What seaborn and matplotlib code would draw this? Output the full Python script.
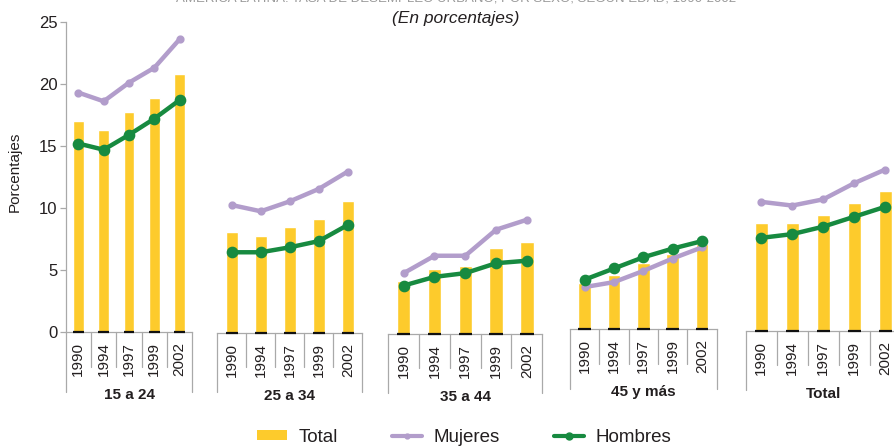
import matplotlib
matplotlib.use("Agg")
import matplotlib.pyplot as plt
import matplotlib.transforms as mtrans
from matplotlib.lines import Line2D
from matplotlib.patches import Patch
import seaborn as sns

# ---- data (percentages) ----
years = ["1990", "1994", "1997", "1999", "2002"]
groups = ["15 a 24", "25 a 34", "35 a 44", "45 y más", "Total"]

total_pct = [
    [17.0, 16.3, 17.7, 18.9, 20.8],
    [8.1, 7.8, 8.5, 9.2, 10.6],
    [4.3, 5.2, 5.5, 6.9, 7.4],
    [3.7, 4.4, 5.3, 6.1, 6.9],
    [8.7, 8.7, 9.3, 10.3, 11.3],
]
mujeres_pct = [
    [19.3, 18.6, 20.1, 21.3, 23.6],
    [10.3, 9.8, 10.6, 11.6, 13.0],
    [4.9, 6.3, 6.3, 8.4, 9.2],
    [3.4, 3.8, 4.7, 5.7, 6.6],
    [10.4, 10.1, 10.6, 11.9, 13.0],
]
hombres_pct = [
    [15.2, 14.7, 15.9, 17.2, 18.7],
    [6.5, 6.5, 6.9, 7.4, 8.7],
    [3.9, 4.6, 4.9, 5.7, 5.9],
    [4.0, 4.9, 5.8, 6.5, 7.1],
    [7.5, 7.8, 8.4, 9.2, 10.0],
]

# ---- style ----
YELLOW = "#FDCB2C"
PURPLE = "#B29DCB"
GREEN = "#178A40"
GRAY = "#A9A9A9"
TXT = "#231F20"

sns.set_theme(style="white")
plt.rcParams["font.family"] = ["Liberation Sans", "DejaVu Sans"]

W, H = 894, 447
fig = plt.figure(figsize=(W / 100, H / 100), dpi=100)

# panel frames in pixels: left, baseline (from top), right
frames = [
    (65.7, 332.3, 192.3),
    (217.3, 333.0, 362.3),
    (388.3, 334.0, 542.3),
    (570.0, 329.3, 716.7),
    (745.7, 331.0, 900.7),
]
PX_PER_UNIT = 12.42
YMAX = 25
axh = YMAX * PX_PER_UNIT

for i, (l, base, r) in enumerate(frames):
    ax = fig.add_axes([l / W, (H - base) / H, (r - l) / W, axh / H])
    ax.patch.set_alpha(0)

    sns.barplot(x=years, y=total_pct[i], color=YELLOW, saturation=1,
                width=0.43, ax=ax, zorder=2)
    # dark bottom edge under each bar
    for p in list(ax.patches):
        ax.plot([p.get_x(), p.get_x() + p.get_width()], [0, 0],
                color="#111111", lw=1.6, clip_on=False, zorder=3,
                solid_capstyle="butt")

    sns.pointplot(x=years, y=mujeres_pct[i], color=PURPLE, errorbar=None,
                  marker="o", markersize=3.5, linewidth=3.2, ax=ax)
    sns.pointplot(x=years, y=hombres_pct[i], color=GREEN, errorbar=None,
                  marker="o", markersize=6, linewidth=3.2, ax=ax)

    ax.set_xlim(-0.5, 4.5)
    ax.set_ylim(0, YMAX)
    ax.set_xlabel("")
    ax.set_ylabel("")

    for s in ("top", "right"):
        ax.spines[s].set_visible(False)
    ax.spines["bottom"].set_color(GRAY)
    ax.spines["bottom"].set_linewidth(0.9)

    ax.tick_params(axis="x", length=0, pad=7, labelsize=11, labelcolor=TXT)
    for t in ax.get_xticklabels():
        t.set_rotation(90)
        t.set_va("top")
        t.set_ha("center")

    if i == 0:
        ax.spines["left"].set_color(GRAY)
        ax.spines["left"].set_linewidth(0.9)
        ax.set_yticks(range(0, 26, 5))
        ax.tick_params(axis="y", left=True, length=4, width=0.9, color=GRAY,
                       pad=2, labelsize=12, labelcolor=TXT)
    else:
        ax.spines["left"].set_visible(False)
        ax.set_yticks([])

    # category separators below the axis
    trans = mtrans.blended_transform_factory(ax.transData, ax.transAxes)
    for k in (0.5, 1.5, 2.5, 3.5):
        ax.plot([k, k], [0, -34.4 / axh], transform=trans, clip_on=False,
                color=GRAY, lw=0.9)
    for k in (-0.5, 4.5):
        ax.plot([k, k], [0, -59.4 / axh], transform=trans, clip_on=False,
                color=GRAY, lw=0.9)

    ax.text(0.5, -62.7 / axh, groups[i], transform=ax.transAxes,
            ha="center", va="center", fontsize=11, fontweight="bold",
            color=TXT)

fig.text(15 / W, 1 - 172 / H, "Porcentajes", rotation=90, ha="center",
         va="center", fontsize=11, color=TXT)

# heading line, sitting at the very top edge of the figure
fig.text(456 / W, 1 - 2 / H,
         "AMÉRICA LATINA: TASA DE DESEMPLEO URBANO, POR SEXO, SEGÚN EDAD, 1990-2002",
         ha="center", va="baseline", fontsize=9.5, color="#9a9a9a")
fig.text(456 / W, 1 - 18 / H, "(En porcentajes)", ha="center", va="center",
         fontsize=12.5, style="italic", color=TXT)

handles = [
    Patch(facecolor=YELLOW, edgecolor="none"),
    Line2D([], [], color=PURPLE, lw=3, marker="o", markersize=3.5),
    Line2D([], [], color=GREEN, lw=3, marker="o", markersize=5),
]
fig.legend(handles, ["Total", "Mujeres", "Hombres"], loc="center",
           bbox_to_anchor=(464 / W, 1 - 437 / H), ncol=3, frameon=False,
           fontsize=13.5, handlelength=1.6, handleheight=0.5,
           handletextpad=0.6, columnspacing=2.9, labelcolor=TXT)

fig.savefig("out.png", dpi=100)
